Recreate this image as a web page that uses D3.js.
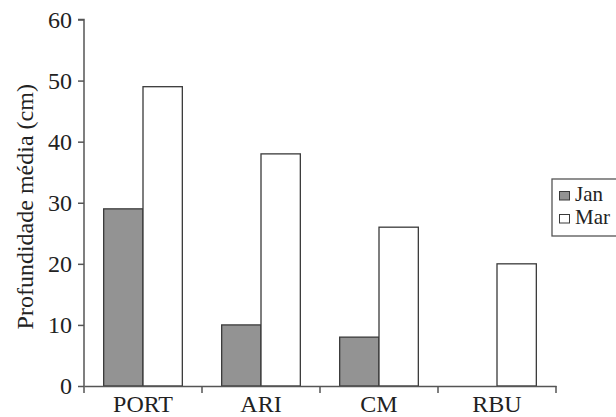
<!DOCTYPE html>
<html>
<head>
<meta charset="utf-8">
<script src="https://cdn.jsdelivr.net/npm/d3@7"></script>
<style>
  html, body { margin: 0; padding: 0; background: #fff; }
  svg { display: block; }
  text { font-family: "Liberation Serif", "Times New Roman", Times, serif; fill: #222; }
</style>
</head>
<body>
<svg id="chart" width="616" height="417"></svg>
<script>
const categories = ["PORT", "ARI", "CM", "RBU"];
const seriesNames = ["Jan", "Mar"];
const janValues = [29, 10, 8, 0];
const marValues = [49, 38, 26, 20];
const yTicks = [0, 10, 20, 30, 40, 50, 60];
const yLabel = "Profundidade média (cm)";
const colors = { Jan: "#939393", Mar: "#ffffff" };

const data = categories.map((c, i) => ({ cat: c, Jan: janValues[i], Mar: marValues[i] }));

const svg = d3.select("#chart");
const mLeft = 84, mRight = 556, mTop = 19.5, mBottom = 386;

const x0 = d3.scaleBand().domain(categories).range([mLeft, mRight]).padding(0);
const x1 = d3.scaleBand().domain(seriesNames).range([0, x0.bandwidth()]).paddingInner(0).paddingOuter(0.5);
const y = d3.scaleLinear().domain([0, 60]).range([mBottom, mTop]);

// bars
const groups = svg.append("g").selectAll("g").data(data).join("g")
  .attr("transform", d => `translate(${x0(d.cat)},0)`);
groups.selectAll("rect")
  .data(d => seriesNames.map(s => ({ s, v: d[s] })).filter(e => e.v > 0))
  .join("rect")
  .attr("x", e => x1(e.s))
  .attr("y", e => y(e.v))
  .attr("width", x1.bandwidth())
  .attr("height", e => y(0) - y(e.v))
  .attr("fill", e => colors[e.s])
  .attr("stroke", "#3a3a3a")
  .attr("stroke-width", 1.3);

// y axis
const yAxis = d3.axisLeft(y).tickValues(yTicks).tickSize(6).tickPadding(6).tickFormat(d3.format("d"));
const gy = svg.append("g").attr("transform", `translate(${mLeft},0)`).call(yAxis);
gy.select(".domain").attr("stroke", "#555").attr("stroke-width", 1.5).attr("d", `M-6,${mTop}H0V${mBottom}`);
gy.selectAll(".tick line").attr("stroke", "#555").attr("stroke-width", 1.5);
gy.selectAll(".tick text").style("font-size", "24px").attr("font-family", null).attr("fill", "#222");

// x axis
const xAxis = d3.axisBottom(x0).tickSize(0).tickPadding(9);
const gx = svg.append("g").attr("transform", `translate(0,${mBottom})`).call(xAxis);
gx.select(".domain").attr("stroke", "#555").attr("stroke-width", 1.5);
gx.selectAll(".tick text").style("font-size", "24px").attr("font-family", null).attr("fill", "#222");
// category boundary ticks
const bounds = categories.map(c => x0(c)).concat([mRight]);
gx.append("g").selectAll("line").data(bounds).join("line")
  .attr("x1", d => d).attr("x2", d => d)
  .attr("y1", 0).attr("y2", 7)
  .attr("stroke", "#555").attr("stroke-width", 1.5);

// y label
svg.append("text")
  .attr("transform", `translate(33,${(mTop + mBottom) / 2 + 4}) rotate(-90)`)
  .attr("text-anchor", "middle")
  .style("font-size", "24px")
  .text(yLabel);

// legend
const lg = svg.append("g").attr("transform", "translate(552,179)");
lg.append("rect").attr("x", 0).attr("y", 0).attr("width", 80).attr("height", 57)
  .attr("fill", "#fff").attr("stroke", "#555").attr("stroke-width", 1.3);
seriesNames.forEach((s, i) => {
  lg.append("rect").attr("x", 7.5).attr("y", 12.5 + i * 23).attr("width", 10).attr("height", 8.5)
    .attr("fill", colors[s]).attr("stroke", "#3a3a3a").attr("stroke-width", 1);
  lg.append("text").attr("x", 23).attr("y", 22 + i * 23).style("font-size", "21px").text(s);
});
</script>
</body>
</html>
